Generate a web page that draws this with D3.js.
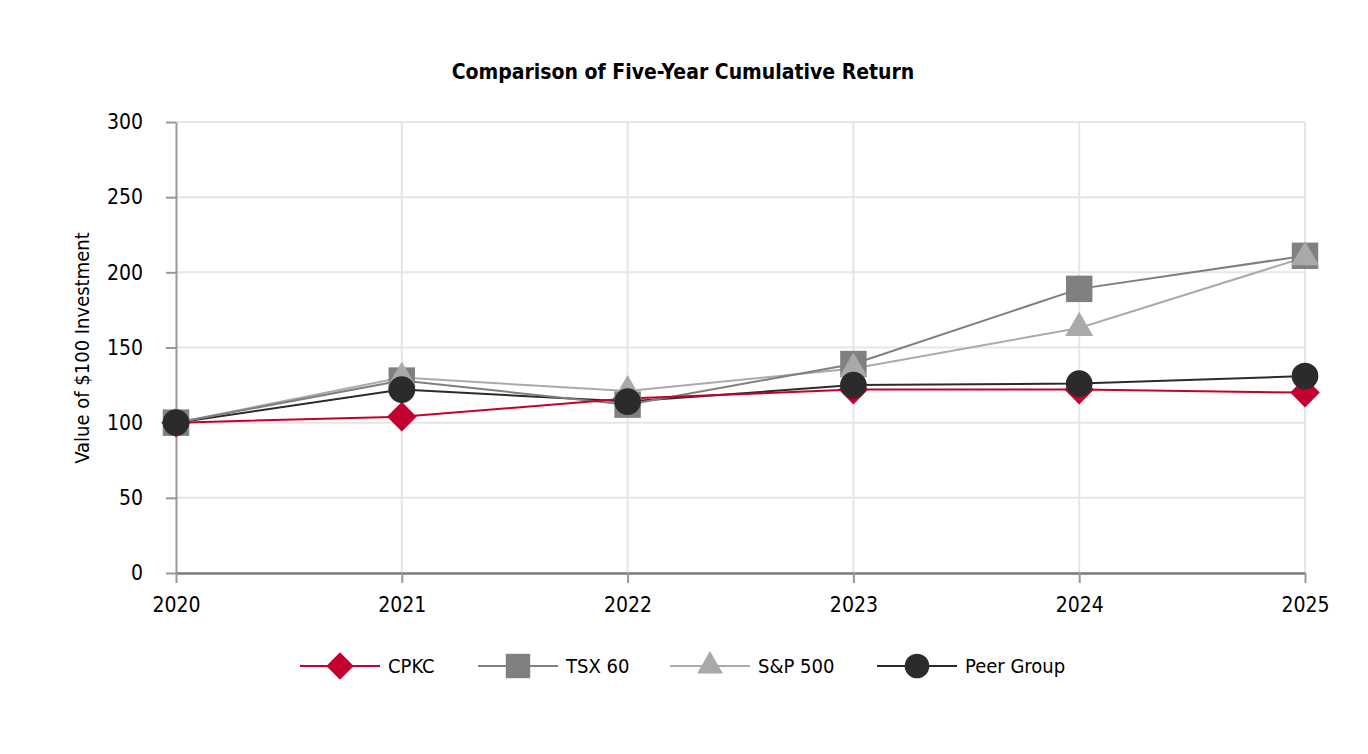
<!DOCTYPE html>
<html>
<head>
<meta charset="utf-8">
<script src="https://cdn.jsdelivr.net/npm/d3@7"></script>
<style>
  body { margin: 0; background: #fff; }
  svg text { font-family: 'Liberation Sans Narrow', 'DejaVu Sans Condensed', 'Arial Narrow', sans-serif; fill: #000; }
</style>
</head>
<body>
<div id="chart"></div>
<script>
var years = [2020, 2021, 2022, 2023, 2024, 2025];
var cpkc = [100, 104, 116, 122, 122, 120];
var tsx60 = [100, 128, 112, 139, 189, 211];
var sp500 = [100, 130, 121, 136, 163, 210];
var peer = [100, 122, 114, 125, 126, 131];
var yTicks = [0, 50, 100, 150, 200, 250, 300];
var seriesNames = ['CPKC', 'TSX 60', 'S&P 500', 'Peer Group'];

var W = 1368, H = 754;
var plotLeft = 176, plotRight = 1305, plotTop = 122, plotBottom = 573;

var svg = d3.select('#chart').append('svg')
  .attr('width', W).attr('height', H);

var x = d3.scalePoint().domain(years).range([plotLeft, plotRight]);
var y = d3.scaleLinear().domain([0, 300]).range([plotBottom, plotTop]);

var series = [
  {name: seriesNames[0], values: cpkc, color: '#c4002f', line: '#c4002f', shape: 'diamond'},
  {name: seriesNames[1], values: tsx60, color: '#808080', line: '#7f7f7f', shape: 'square'},
  {name: seriesNames[2], values: sp500, color: '#a9a9a9', line: '#aaaaaa', shape: 'triangle'},
  {name: seriesNames[3], values: peer, color: '#2b2b2b', line: '#2b2b2b', shape: 'circle'}
];

/* grid */
svg.append('g').selectAll('line')
  .data(yTicks.filter(d => d > 0)).enter()
  .append('line')
  .attr('x1', plotLeft).attr('x2', plotRight)
  .attr('y1', d => y(d)).attr('y2', d => y(d))
  .attr('stroke', '#e6e6e6').attr('stroke-width', 2);

svg.append('g').selectAll('line')
  .data(years.slice(1)).enter()
  .append('line')
  .attr('x1', d => x(d)).attr('x2', d => x(d))
  .attr('y1', plotTop).attr('y2', plotBottom)
  .attr('stroke', '#e6e6e6').attr('stroke-width', 2);

/* axes */
var yAxis = d3.axisLeft(y).tickValues(yTicks).tickSize(10).tickPadding(23).tickSizeOuter(0);
var gy = svg.append('g').attr('transform', `translate(${plotLeft},0)`).call(yAxis);
gy.select('.domain').attr('stroke', '#999').attr('stroke-width', 2);
gy.selectAll('.tick line').attr('stroke', '#999').attr('stroke-width', 2);
gy.selectAll('.tick text').style('font-size', '21px');

var xAxis = d3.axisBottom(x).tickValues(years).tickSize(10).tickPadding(14).tickSizeOuter(0);
var gx = svg.append('g').attr('transform', `translate(0,${plotBottom})`).call(xAxis);
gx.select('.domain').attr('stroke', '#7a7a7a').attr('stroke-width', 2.5);
gx.selectAll('.tick line').attr('stroke', '#999').attr('stroke-width', 2);
gx.selectAll('.tick text').style('font-size', '21px');

/* title and y label */
svg.append('text')
  .attr('x', 683).attr('y', 79)
  .attr('text-anchor', 'middle')
  .style('font-size', '21px').style('font-weight', 'bold')
  .text('Comparison of Five-Year Cumulative Return');

svg.append('text')
  .attr('transform', 'translate(89,348) rotate(-90)')
  .attr('text-anchor', 'middle')
  .style('font-size', '20px')
  .text('Value of $100 Investment');

/* marker symbols */
function symbolFor(shape, size) {
  var t = {diamond: d3.symbolDiamond2, square: d3.symbolSquare, triangle: d3.symbolTriangle2, circle: d3.symbolCircle}[shape];
  return d3.symbol().type(t).size(size)();
}
var markerSize = {diamond: 560, square: 700, triangle: 560, circle: 560};

var line = d3.line()
  .x((d, i) => x(years[i]))
  .y(d => y(d));

/* lines */
svg.append('g').selectAll('path')
  .data(series.slice().reverse()).enter()
  .append('path')
  .attr('d', d => line(d.values))
  .attr('fill', 'none')
  .attr('stroke', d => d.line)
  .attr('stroke-width', 2);

/* markers */
series.forEach(function(s) {
  svg.append('g').selectAll('path')
    .data(s.values).enter()
    .append('path')
    .attr('d', symbolFor(s.shape, markerSize[s.shape]))
    .attr('transform', (d, i) => `translate(${x(years[i])},${y(d)})`)
    .attr('fill', s.color);
});

/* legend */
var legendX = [300, 478, 670, 877];
var lg = svg.append('g').selectAll('g')
  .data(series).enter()
  .append('g')
  .attr('transform', (d, i) => `translate(${legendX[i]},666)`);

lg.append('line')
  .attr('x1', 0).attr('x2', 80)
  .attr('stroke', d => d.line).attr('stroke-width', 2);
lg.append('path')
  .attr('d', d => symbolFor(d.shape, markerSize[d.shape] * 0.85))
  .attr('transform', 'translate(40,0)')
  .attr('fill', d => d.color);
lg.append('text')
  .attr('x', 88).attr('y', 7)
  .style('font-size', '20px')
  .text(d => d.name);
</script>
</body>
</html>
